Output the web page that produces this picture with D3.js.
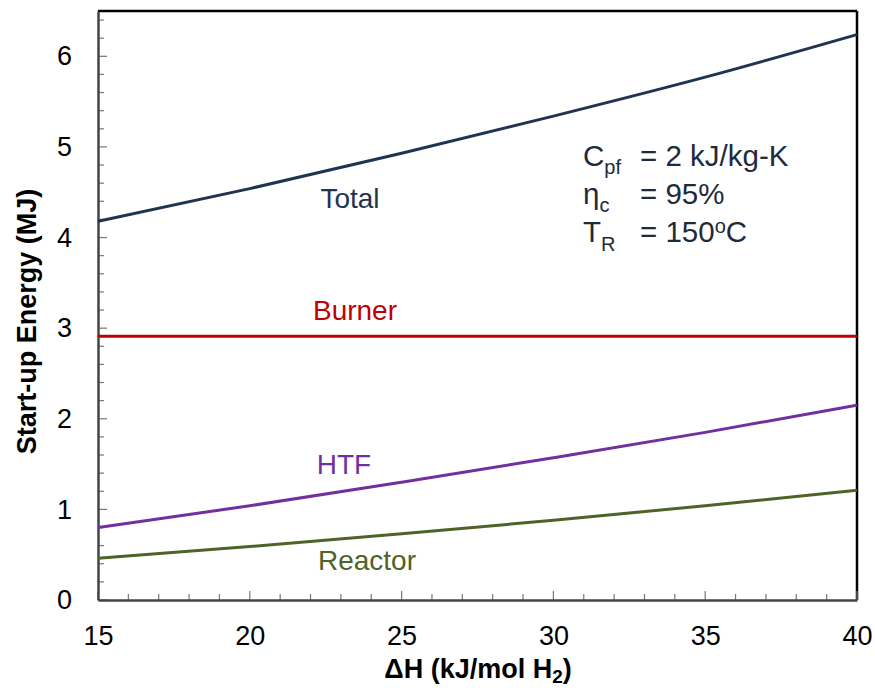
<!DOCTYPE html>
<html>
<head>
<meta charset="utf-8">
<script src="https://cdn.jsdelivr.net/npm/d3@7"></script>
<style>
  body { margin: 0; background: #fff; }
  text { font-family: "Liberation Sans", Arial, sans-serif; }
</style>
</head>
<body>
<script>

// data
var dH = [15, 20, 25, 30, 35, 40];
var total = [4.18, 4.54, 4.93, 5.34, 5.77, 6.24];
var burner = [2.91, 2.91, 2.91, 2.91, 2.91, 2.91];
var htf = [0.80, 1.04, 1.30, 1.57, 1.85, 2.15];
var reactor = [0.46, 0.59, 0.73, 0.88, 1.04, 1.21];
var xTicks = [15, 20, 25, 30, 35, 40];
var yTicks = [0, 1, 2, 3, 4, 5, 6];

var def_width = 875, def_height = 688;
var margin = {top: 11, right: 18, bottom: 88, left: 98},
    width = def_width - margin.left - margin.right,
    height = def_height - margin.top - margin.bottom;

var svg = d3.select("body").append("svg").attr("width", def_width).attr("height", def_height);

var x = d3.scaleLinear().domain([15, 40]).range([0, width]),
    y = d3.scaleLinear().domain([0, 6.5]).range([height, 0]);

var g = svg.append("g").attr("transform", "translate(" + margin.left + "," + margin.top + ")");

// frame: top & right black
g.append("line").attr("x1", 0).attr("x2", width).attr("y1", 0).attr("y2", 0)
  .style("stroke", "#000").style("stroke-width", 2.5);
g.append("line").attr("x1", width).attr("x2", width).attr("y1", 0).attr("y2", height)
  .style("stroke", "#000").style("stroke-width", 2.5);

// minor ticks (inside)
var xMinor = d3.range(15, 40.01, 1);
g.selectAll(".xminor").data(xMinor).enter().append("line")
  .attr("x1", function(d) { return x(d); }).attr("x2", function(d) { return x(d); })
  .attr("y1", height).attr("y2", function(d) { return d % 5 === 0 ? height - 9 : height - 6; })
  .style("stroke", "#777").style("stroke-width", 1.2);
var yMinor = d3.range(0, 6.41, 0.2);
g.selectAll(".yminor").data(yMinor).enter().append("line")
  .attr("y1", function(d) { return y(d); }).attr("y2", function(d) { return y(d); })
  .attr("x1", 0).attr("x2", function(d) { return Math.abs(d - Math.round(d)) < 0.01 ? 9 : 6; })
  .style("stroke", "#777").style("stroke-width", 1.2);

// axes
var xAxis = g.append("g").attr("transform", "translate(0," + height + ")")
  .call(d3.axisBottom(x).tickValues(xTicks).tickFormat(d3.format("d")).tickSize(0).tickPadding(26));
var yAxis = g.append("g")
  .call(d3.axisLeft(y).tickValues(yTicks).tickFormat(d3.format("d")).tickSize(0).tickPadding(26));
[xAxis, yAxis].forEach(function(a) {
  a.select(".domain").style("stroke", "#444").style("stroke-width", 2.5);
  a.selectAll("text").style("font-size", "27px").style("fill", "#000")
    .style("font-family", "'Liberation Sans', Arial, sans-serif");
});

// series
var line = d3.line()
  .x(function(d, i) { return x(dH[i]); })
  .y(function(d) { return y(d); })
  .curve(d3.curveMonotoneX);

var series = [
  {name: "Total", values: total, color: "#1f3450", lx: 350, ly: 4.33},
  {name: "Burner", values: burner, color: "#c00000", lx: 355, ly: 3.09},
  {name: "HTF", values: htf, color: "#7030a0", lx: 344, ly: 1.39},
  {name: "Reactor", values: reactor, color: "#4f6228", lx: 367, ly: 0.33}
];

series.forEach(function(s) {
  g.append("path").datum(s.values)
    .attr("d", line)
    .style("fill", "none")
    .style("stroke", s.color)
    .style("stroke-width", 3);
  g.append("text")
    .attr("x", s.lx - margin.left)
    .attr("y", y(s.ly))
    .attr("text-anchor", "middle")
    .style("font-size", "28px")
    .style("fill", s.color)
    .text(s.name);
});

// annotation
var ann = g.append("text").style("font-size", "29.5px").style("fill", "#1f2a3a");
var ax = 583 - margin.left, eqx = 640 - margin.left;
var t1 = ann.append("tspan").attr("x", ax).attr("y", 166 - margin.top);
t1.append("tspan").text("C");
t1.append("tspan").attr("dy", 8).style("font-size", "20px").text("pf");
t1.append("tspan").attr("dy", -8).attr("x", eqx).text("= 2 kJ/kg-K");
var t2 = ann.append("tspan").attr("x", ax).attr("y", 204 - margin.top);
t2.append("tspan").text("η");
t2.append("tspan").attr("dy", 8).style("font-size", "20px").text("c");
t2.append("tspan").attr("dy", -8).attr("x", eqx).text("= 95%");
var t3 = ann.append("tspan").attr("x", ax).attr("y", 242 - margin.top);
t3.append("tspan").text("T");
t3.append("tspan").attr("dy", 9).style("font-size", "20px").text("R");
t3.append("tspan").attr("dy", -9).attr("x", eqx).text("= 150");
t3.append("tspan").attr("dy", -9).style("font-size", "20px").text("o");
t3.append("tspan").attr("dy", 9).text("C");

// axis titles
var xt = svg.append("text")
  .attr("x", 478)
  .attr("y", 678)
  .attr("text-anchor", "middle")
  .style("font-size", "27px").style("font-weight", "bold");
xt.append("tspan").text("ΔH (kJ/mol H");
xt.append("tspan").attr("dy", 5).style("font-size", "19px").text("2");
xt.append("tspan").attr("dy", -5).text(")");

svg.append("text")
  .attr("transform", "translate(36," + (margin.top + height / 2 + 16) + ") rotate(-90)")
  .attr("text-anchor", "middle")
  .style("font-size", "27px").style("font-weight", "bold")
  .text("Start-up Energy (MJ)");

</script>
</body>
</html>
